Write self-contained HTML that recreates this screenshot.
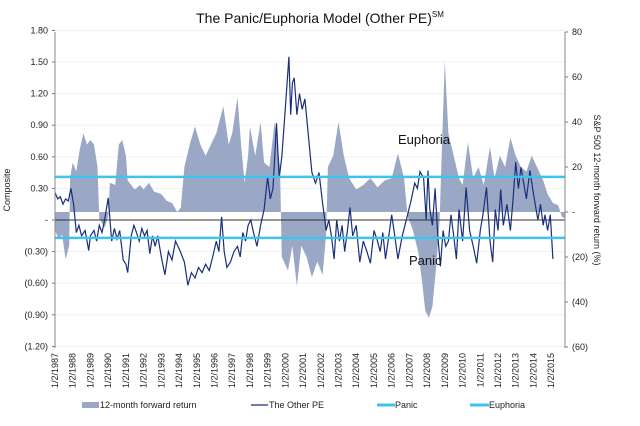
<!DOCTYPE html>
<html><head><meta charset="utf-8"><style>
body{margin:0;background:#fff;}
svg{display:block;font-family:"Liberation Sans",sans-serif;}
</style></head><body>
<svg id="c" width="640" height="426" viewBox="0 0 640 426">
<text x="320" y="23" text-anchor="middle" font-size="14" fill="#111">The Panic/Euphoria Model (Other PE)<tspan font-size="8" dy="-6">SM</tspan></text>
<g id="grid"></g>
<g id="bars"></g>
<g id="lines"></g>
<g id="axes"></g>
</svg>
<script>
const retDates=[1987.0,1987.2,1987.4,1987.6,1987.8,1987.85,1988.0,1988.2,1988.4,1988.6,1988.8,1989.0,1989.2,1989.4,1989.5,1989.8,1990.0,1990.1,1990.4,1990.6,1990.8,1991.0,1991.1,1991.5,1991.8,1992.0,1992.3,1992.6,1993.0,1993.3,1993.6,1993.9,1994.1,1994.3,1994.6,1994.9,1995.2,1995.5,1995.8,1996.1,1996.5,1996.8,1997.0,1997.3,1997.5,1997.7,1997.9,1998.0,1998.3,1998.6,1998.8,1999.1,1999.4,1999.7,1999.8,2000.15,2000.4,2000.65,2000.9,2001.2,2001.5,2001.8,2002.1,2002.3,2002.4,2002.7,2003.0,2003.3,2003.6,2004.0,2004.4,2004.8,2005.2,2005.6,2006.0,2006.35,2006.7,2006.9,2007.2,2007.5,2007.7,2007.9,2008.1,2008.3,2008.5,2008.7,2008.8,2009.0,2009.2,2009.5,2009.8,2010.0,2010.3,2010.6,2010.9,2011.2,2011.55,2011.8,2012.1,2012.4,2012.7,2013.0,2013.3,2013.6,2013.9,2014.2,2014.55,2014.8,2015.1,2015.4,2015.6,2015.8];
const retValues=[-8,-12,-10,-21,-15,15,22,18,28,35,30,32,30,20,-3,-7,-2,13,12,30,32,25,14,10,12,10,13,9,8,5,4,0,2,20,30,38,30,25,30,35,47,30,35,51,30,13,25,38,25,40,22,20,40,20,-20,-26,-15,-33,-15,-20,-29,-22,-28,-10,20,25,40,25,15,10,12,15,11,14,15,26,15,-2,-8,-18,-30,-44,-47,-42,-25,-5,20,67,35,25,15,12,31,15,20,12,29,15,25,20,33,25,20,18,25,20,14,8,4,3,-2,-3];
const peDates=[1987.0,1987.15,1987.3,1987.45,1987.6,1987.75,1987.9,1988.05,1988.2,1988.35,1988.5,1988.7,1988.9,1989.0,1989.2,1989.35,1989.5,1989.65,1989.8,1990.0,1990.2,1990.35,1990.5,1990.65,1990.85,1991.0,1991.1,1991.3,1991.45,1991.6,1991.75,1991.9,1992.05,1992.2,1992.35,1992.5,1992.65,1992.8,1993.0,1993.2,1993.4,1993.6,1993.8,1994.05,1994.3,1994.5,1994.7,1994.9,1995.1,1995.3,1995.5,1995.7,1995.9,1996.1,1996.25,1996.4,1996.55,1996.7,1996.9,1997.1,1997.3,1997.45,1997.6,1997.75,1997.9,1998.05,1998.2,1998.4,1998.6,1998.8,1999.0,1999.15,1999.3,1999.5,1999.65,1999.8,2000.0,2000.2,2000.3,2000.4,2000.5,2000.65,2000.8,2000.95,2001.1,2001.3,2001.5,2001.7,2001.9,2002.1,2002.3,2002.45,2002.6,2002.75,2002.9,2003.05,2003.2,2003.35,2003.5,2003.65,2003.8,2004.0,2004.2,2004.4,2004.6,2004.8,2005.0,2005.2,2005.35,2005.5,2005.65,2005.8,2006.0,2006.15,2006.35,2006.6,2006.9,2007.1,2007.3,2007.45,2007.6,2007.8,2007.95,2008.05,2008.15,2008.3,2008.45,2008.6,2008.75,2008.9,2009.05,2009.2,2009.35,2009.5,2009.65,2009.8,2010.0,2010.2,2010.4,2010.6,2010.8,2011.0,2011.15,2011.35,2011.55,2011.7,2011.85,2012.0,2012.15,2012.3,2012.5,2012.7,2012.85,2013.0,2013.15,2013.3,2013.45,2013.6,2013.8,2013.95,2014.1,2014.25,2014.4,2014.55,2014.65,2014.8,2014.95,2015.1,2015.25,2015.4,2015.55,2015.7,2015.8];
const peValues=[0.26,0.2,0.22,0.15,0.2,0.18,0.3,0.15,-0.12,-0.05,-0.15,-0.1,-0.29,-0.15,-0.1,-0.2,-0.05,-0.12,0.0,0.21,-0.2,-0.08,-0.18,-0.1,-0.38,-0.42,-0.5,-0.15,-0.05,-0.12,-0.2,-0.08,-0.15,-0.1,-0.32,-0.15,-0.25,-0.15,-0.35,-0.52,-0.3,-0.38,-0.2,-0.29,-0.4,-0.62,-0.5,-0.55,-0.45,-0.5,-0.42,-0.48,-0.35,-0.2,-0.3,0.03,-0.3,-0.45,-0.4,-0.3,-0.25,-0.35,-0.12,-0.2,-0.05,0.0,-0.12,-0.25,-0.05,0.1,0.41,0.2,0.3,0.92,0.4,0.6,1.07,1.55,1.0,1.3,1.35,1.0,1.2,1.05,1.15,0.8,0.45,0.35,0.45,0.16,-0.1,0.0,-0.15,-0.37,0.0,-0.2,-0.05,-0.3,-0.1,0.12,-0.15,-0.05,-0.4,-0.2,-0.3,-0.41,-0.1,-0.2,-0.3,-0.12,-0.37,-0.2,0.05,-0.12,-0.37,-0.15,0.05,0.19,0.35,0.3,0.46,0.4,0.0,0.47,0.1,-0.05,0.3,-0.15,-0.44,-0.1,-0.25,-0.2,0.05,-0.15,-0.37,0.1,-0.2,0.31,-0.1,-0.25,-0.41,-0.1,0.05,0.31,-0.2,-0.4,0.1,-0.1,0.29,-0.05,0.15,-0.1,0.2,0.55,0.3,0.5,0.35,0.2,0.47,0.3,0.15,0.0,0.15,-0.05,0.05,-0.1,0.05,-0.37];
const leftTicks=[1.8,1.5,1.2,0.9,0.6,0.3,0,-0.3,-0.6,-0.9,-1.2];
const rightTicks=[80,60,40,20,0,-20,-40,-60];
const dateLabels=["1/2/1987","1/2/1988","1/2/1989","1/2/1990","1/2/1991","1/2/1992","1/2/1993","1/2/1994","1/2/1995","1/2/1996","1/2/1997","1/2/1998","1/2/1999","1/2/2000","1/2/2001","1/2/2002","1/2/2003","1/2/2004","1/2/2005","1/2/2006","1/2/2007","1/2/2008","1/2/2009","1/2/2010","1/2/2011","1/2/2012","1/2/2013","1/2/2014","1/2/2015"];
const panicLevel=-0.17, euphoriaLevel=0.41;

const NS="http://www.w3.org/2000/svg";
const X0=55,X1=565;
const xs=t=>X0+(t-1987)*17.72;
const yL=v=>220-v*105.3;
const yR=v=>212-v*2.25;
function mk(tag,attrs,parent){const e=document.createElementNS(NS,tag);for(const k in attrs)e.setAttribute(k,attrs[k]);parent.appendChild(e);return e;}
const grid=document.getElementById('grid'),bars=document.getElementById('bars'),lines=document.getElementById('lines'),axes=document.getElementById('axes');
const fmt=v=>v===0?'-':(v<0?'('+Math.abs(v).toFixed(2)+')':v.toFixed(2));
leftTicks.forEach(v=>{
  const g=mk('line',{x1:X0,x2:X1,y1:yL(v),y2:yL(v),stroke:'#eef0f4','stroke-width':1},grid);
  
  
  const t=mk('text',{x:48,y:yL(v)+3,'text-anchor':'end','font-size':9,fill:'#222'},axes);
  t.textContent=fmt(v);
  
  
  mk('line',{x1:X0-3,x2:X0,y1:yL(v),y2:yL(v),stroke:'#777'},axes);
});
rightTicks.forEach(v=>{
  const t=mk('text',{x:572,y:yR(v)+3,'font-size':9,fill:'#222'},axes);
  t.textContent=v===0?'-':(v<0?'('+Math.abs(v)+')':String(v));
  
  
  mk('line',{x1:X1,x2:X1+3,y1:yR(v),y2:yR(v),stroke:'#777'},axes);
});
// area
let d='M'+xs(retDates[0])+','+yR(0);
retDates.forEach((t,i)=>{d+=' L'+xs(t).toFixed(1)+','+yR(retValues[i]).toFixed(1);});
d+=' L'+xs(retDates[retDates.length-1])+','+yR(0)+' Z';
const area=mk('path',{d:d,fill:'#9aa8c6',stroke:'none'},bars);


// zero line
const zl=mk('line',{x1:X0,x2:X1,y1:yL(0),y2:yL(0),stroke:'#333','stroke-width':1},lines);


// PE line
const pts=peDates.map((t,i)=>xs(t).toFixed(1)+','+yL(peValues[i]).toFixed(1)).join(' ');
const pl=mk('polyline',{points:pts,fill:'none',stroke:'#1a2f7a','stroke-width':1.2},lines);


const eu=mk('line',{x1:X0,x2:X1,y1:yL(euphoriaLevel),y2:yL(euphoriaLevel),stroke:'#3cc3ee','stroke-width':2.5},lines);


const pa=mk('line',{x1:X0,x2:X1,y1:yL(panicLevel),y2:yL(panicLevel),stroke:'#3cc3ee','stroke-width':2.5},lines);


// axes lines
mk('line',{x1:X0,x2:X0,y1:32,y2:348,stroke:'#888'},axes);
mk('line',{x1:X1,x2:X1,y1:32,y2:348,stroke:'#888'},axes);
dateLabels.forEach((s,i)=>{
  const x=xs(1987+i)+3;
  const t=mk('text',{x:0,y:0,'text-anchor':'end','font-size':9,fill:'#222',transform:'translate('+x+',353) rotate(-90)'},axes);
  t.textContent=s;
  
  
});
</script>
<svg style="position:absolute;left:0;top:0" width="640" height="426">
<text x="10" y="190" transform="rotate(-90 10 190)" text-anchor="middle" font-size="9" font-family="Liberation Sans,sans-serif" fill="#222">Composite</text>
<text x="594" y="190" transform="rotate(90 594 190)" text-anchor="middle" font-size="9" font-family="Liberation Sans,sans-serif" fill="#222">S&amp;P 500 12-month forward return (%)</text>
<text x="398" y="144" font-size="13" font-family="Liberation Sans,sans-serif" fill="#111">Euphoria</text>
<text x="409" y="265" font-size="13" font-family="Liberation Sans,sans-serif" fill="#111">Panic</text>
<g font-size="9" font-family="Liberation Sans,sans-serif" fill="#222">
<rect x="82" y="402" width="17" height="6" fill="#9aa8c6"/>
<text x="100" y="408">12-month forward return</text>
<line x1="251" x2="268" y1="405" y2="405" stroke="#1a2f7a" stroke-width="1.2"/>
<text x="269" y="408">The Other PE</text>
<line x1="377" x2="395" y1="405" y2="405" stroke="#3cc3ee" stroke-width="3"/>
<text x="395" y="408">Panic</text>
<line x1="470" x2="489" y1="405" y2="405" stroke="#3cc3ee" stroke-width="3"/>
<text x="489" y="408">Euphoria</text>
</g>
</svg>
</body></html>
